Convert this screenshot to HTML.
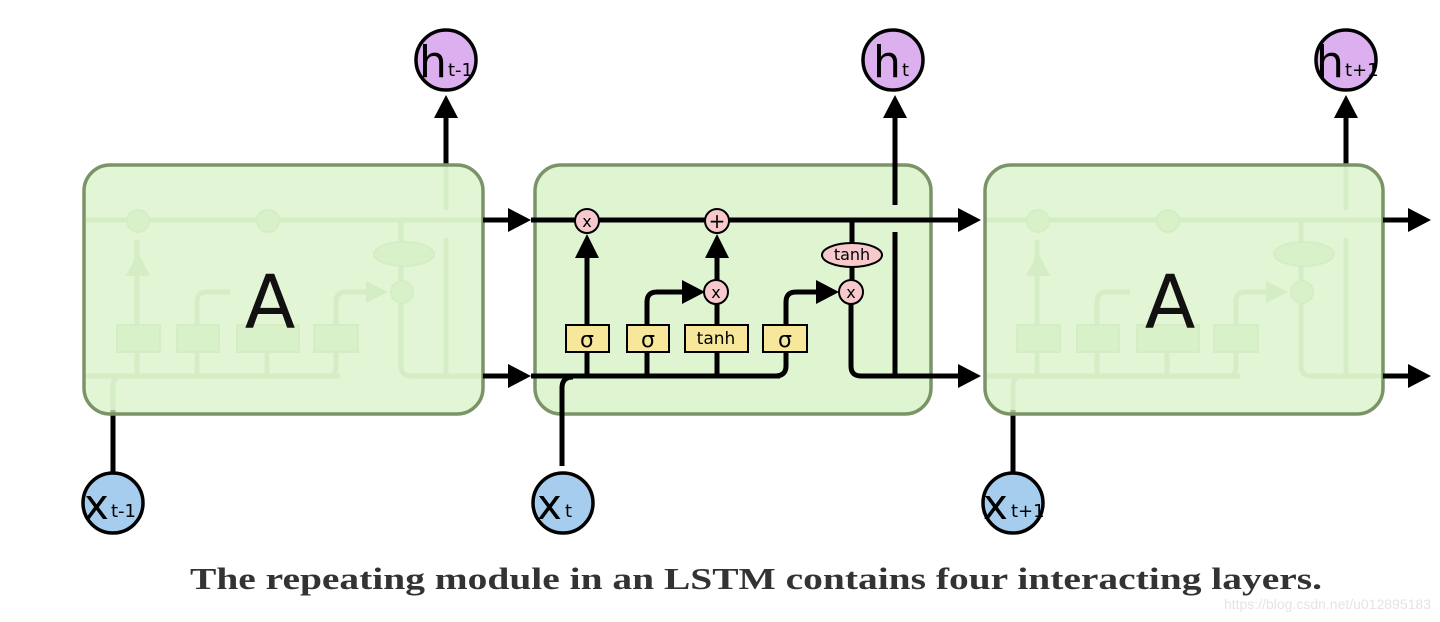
<!DOCTYPE html>
<html><head><meta charset="utf-8"><style>
html,body{margin:0;padding:0;background:#fff;width:1440px;height:622px;overflow:hidden}
svg{display:block}
</style></head><body>
<svg width="1440" height="622" viewBox="0 0 1440 622" xmlns="http://www.w3.org/2000/svg" font-family="'DejaVu Sans','Liberation Sans',sans-serif">
<defs>
<marker id="ar" markerWidth="10" markerHeight="10" refX="9" refY="5" orient="auto" markerUnits="userSpaceOnUse" viewBox="0 0 10 10">
</marker>
</defs>

<!-- faded internals in side boxes (drawn under box fill) -->
<g id="leftint" opacity="0.5">
</g>

<!-- Left box -->
<line x1="113" y1="472" x2="113" y2="410" stroke="#000" stroke-width="5"/>
<line x1="446" y1="165" x2="446" y2="115" stroke="#000" stroke-width="5"/>
<polygon points="434,118 458,118 446,95" fill="#000"/>
<g stroke="#c5dcb6" stroke-width="5" fill="none">
 <line x1="86" y1="220" x2="481" y2="220"/>
 <line x1="86" y1="376" x2="340" y2="376"/>
 <path d="M113,410 L113,386 Q113,376 123,376"/>
 <line x1="137" y1="376" x2="137" y2="240"/>
 <path d="M197,376 L197,302 Q197,292 207,292 L230,292"/>
 <line x1="267" y1="376" x2="267" y2="350"/>
 <path d="M330,376 Q336,376 336,366 L336,302 Q336,292 346,292 L380,292"/>
 <path d="M401,304 L401,366 Q401,376 411,376 L481,376"/>
 <line x1="401" y1="220" x2="401" y2="280"/>
 <line x1="446" y1="165" x2="446" y2="210"/>
 <line x1="446" y1="238" x2="446" y2="376"/>
</g>
<g fill="#d8eccb" stroke="#c5dcb6" stroke-width="2">
 <circle cx="138" cy="221" r="11"/><circle cx="268" cy="221" r="11"/><circle cx="402" cy="292" r="11"/>
 <ellipse cx="404" cy="254" rx="30" ry="12"/>
 <rect x="117" y="325" width="43" height="27"/><rect x="177" y="325" width="42" height="27"/>
 <rect x="237" y="325" width="62" height="27"/><rect x="314" y="325" width="44" height="27"/>
</g>
<polygon points="126,276 150,276 138,252" fill="#c5dcb6"/>
<polygon points="366,281 366,303 388,292" fill="#c5dcb6"/>
<rect x="84" y="165" width="399" height="249" rx="26" fill="#d8f3c8" fill-opacity="0.75" stroke="#7a9468" stroke-width="3.5"/>
<text x="270" y="328" font-size="74" text-anchor="middle" fill="#111">A</text>

<!-- Right box -->
<line x1="1013" y1="472" x2="1013" y2="410" stroke="#000" stroke-width="5"/>
<line x1="1346" y1="165" x2="1346" y2="115" stroke="#000" stroke-width="5"/>
<polygon points="1334,118 1358,118 1346,95" fill="#000"/>
<g transform="translate(900,0)">
<g stroke="#c5dcb6" stroke-width="5" fill="none">
 <line x1="86" y1="220" x2="481" y2="220"/>
 <line x1="86" y1="376" x2="340" y2="376"/>
 <path d="M113,410 L113,386 Q113,376 123,376"/>
 <line x1="137" y1="376" x2="137" y2="240"/>
 <path d="M197,376 L197,302 Q197,292 207,292 L230,292"/>
 <line x1="267" y1="376" x2="267" y2="350"/>
 <path d="M330,376 Q336,376 336,366 L336,302 Q336,292 346,292 L380,292"/>
 <path d="M401,304 L401,366 Q401,376 411,376 L481,376"/>
 <line x1="401" y1="220" x2="401" y2="280"/>
 <line x1="446" y1="165" x2="446" y2="210"/>
 <line x1="446" y1="238" x2="446" y2="376"/>
</g>
<g fill="#d8eccb" stroke="#c5dcb6" stroke-width="2">
 <circle cx="138" cy="221" r="11"/><circle cx="268" cy="221" r="11"/><circle cx="402" cy="292" r="11"/>
 <ellipse cx="404" cy="254" rx="30" ry="12"/>
 <rect x="117" y="325" width="43" height="27"/><rect x="177" y="325" width="42" height="27"/>
 <rect x="237" y="325" width="62" height="27"/><rect x="314" y="325" width="44" height="27"/>
</g>
<polygon points="126,276 150,276 138,252" fill="#c5dcb6"/>
<polygon points="366,281 366,303 388,292" fill="#c5dcb6"/>
<rect x="85" y="165" width="398" height="249" rx="26" fill="#d8f3c8" fill-opacity="0.75" stroke="#7a9468" stroke-width="3.5"/>
<text x="270" y="328" font-size="74" text-anchor="middle" fill="#111">A</text>
</g>

<!-- connecting arrows -->
<g stroke="#000" stroke-width="5">
 <line x1="483" y1="220" x2="515" y2="220"/>
 <line x1="483" y1="376" x2="515" y2="376"/>
 <line x1="1383" y1="220" x2="1415" y2="220"/>
 <line x1="1383" y1="376" x2="1415" y2="376"/>
</g>
<g fill="#000">
 <polygon points="508,208 508,232 531,220"/><polygon points="508,364 508,388 531,376"/>
 <polygon points="1408,208 1408,232 1431,220"/><polygon points="1408,364 1408,388 1431,376"/>
 <polygon points="958,208 958,232 981,220"/><polygon points="958,364 958,388 981,376"/>
</g>

<!-- Middle box -->
<rect x="535" y="165" width="396" height="249" rx="26" fill="#dff5d2" stroke="#7a9468" stroke-width="3.5"/>
<g stroke="#000" stroke-width="5" fill="none">
 <line x1="531" y1="220" x2="962" y2="220"/>
 <line x1="531" y1="376" x2="780" y2="376"/>
 <path d="M562,466 L562,388 Q562,377 573,377"/>
 <line x1="587" y1="376" x2="587" y2="245"/>
 <path d="M647,376 L647,302 Q647,292 657,292 L690,292"/>
 <line x1="717" y1="376" x2="717" y2="304"/>
 <line x1="717" y1="280" x2="717" y2="245"/>
 <path d="M775,376 Q786,376 786,366 L786,302 Q786,292 796,292 L826,292"/>
 <line x1="852" y1="220" x2="852" y2="280"/>
 <path d="M851,304 L851,366 Q851,376 861,376 L962,376"/>
 <line x1="895" y1="165" x2="895" y2="205"/>
 <line x1="895" y1="232" x2="895" y2="376"/>
 <line x1="895" y1="165" x2="895" y2="115"/>
</g>
<g fill="#000">
 <polygon points="575,258 599,258 587,234"/>
 <polygon points="705,258 729,258 717,234"/>
 <polygon points="682,280 682,304 705,292"/>
 <polygon points="816,280 816,304 839,292"/>
 <polygon points="883,118 907,118 895,95"/>
</g>
<g fill="#f7c9cd" stroke="#000" stroke-width="2">
 <circle cx="587" cy="221" r="12"/><circle cx="717" cy="221" r="12"/>
 <circle cx="716" cy="292" r="12"/><circle cx="851" cy="292" r="12"/>
 <ellipse cx="852" cy="255" rx="30" ry="12"/>
</g>
<g font-size="16" text-anchor="middle" fill="#000">
 <text x="587" y="227">x</text><text x="717" y="228" font-size="20">+</text>
 <text x="716" y="298">x</text><text x="851" y="298">x</text>
 <text x="852" y="260" font-size="16">tanh</text>
</g>
<g fill="#f7e79a" stroke="#000" stroke-width="2">
 <rect x="566" y="325" width="43" height="27"/><rect x="627" y="325" width="42" height="27"/>
 <rect x="685" y="325" width="63" height="27"/><rect x="763" y="325" width="44" height="27"/>
</g>
<g text-anchor="middle" fill="#000">
 <text x="587" y="347" font-size="22">σ</text><text x="648" y="347" font-size="22">σ</text>
 <text x="716" y="344" font-size="17">tanh</text><text x="785" y="347" font-size="22">σ</text>
</g>

<!-- h circles -->
<g fill="#dcb0ee" stroke="#000" stroke-width="3.5">
 <circle cx="446" cy="60" r="30"/><circle cx="893" cy="60" r="30"/><circle cx="1346" cy="60" r="30"/>
</g>
<g fill="#a6cdee" stroke="#000" stroke-width="3.5">
 <circle cx="113" cy="503" r="30"/><circle cx="563" cy="503" r="30"/><circle cx="1013" cy="503" r="30"/>
</g>
<g fill="#000" font-family="'DejaVu Sans',sans-serif">
 <text x="419" y="77" font-size="44">h</text><text x="448" y="76" font-size="18">t-1</text>
 <text x="873" y="77" font-size="44">h</text><text x="902" y="76" font-size="18">t</text>
 <text x="1316" y="77" font-size="44">h</text><text x="1345" y="76" font-size="18">t+1</text>
 <text x="84" y="519" font-size="42">x</text><text x="111" y="517" font-size="18">t-1</text>
 <text x="537" y="519" font-size="42">x</text><text x="565" y="517" font-size="18">t</text>
 <text x="983" y="519" font-size="42">x</text><text x="1011" y="517" font-size="18">t+1</text>
</g>

<text x="756" y="589" font-family="'Liberation Serif',serif" font-weight="bold" font-size="31" text-anchor="middle" fill="#333" textLength="1132" lengthAdjust="spacingAndGlyphs">The repeating module in an LSTM contains four interacting layers.</text>
<text x="1431" y="609" font-family="'Liberation Sans',sans-serif" font-size="14" text-anchor="end" fill="#e4e4e4">https://blog.csdn.net/u012895183</text>
</svg>
</body></html>
